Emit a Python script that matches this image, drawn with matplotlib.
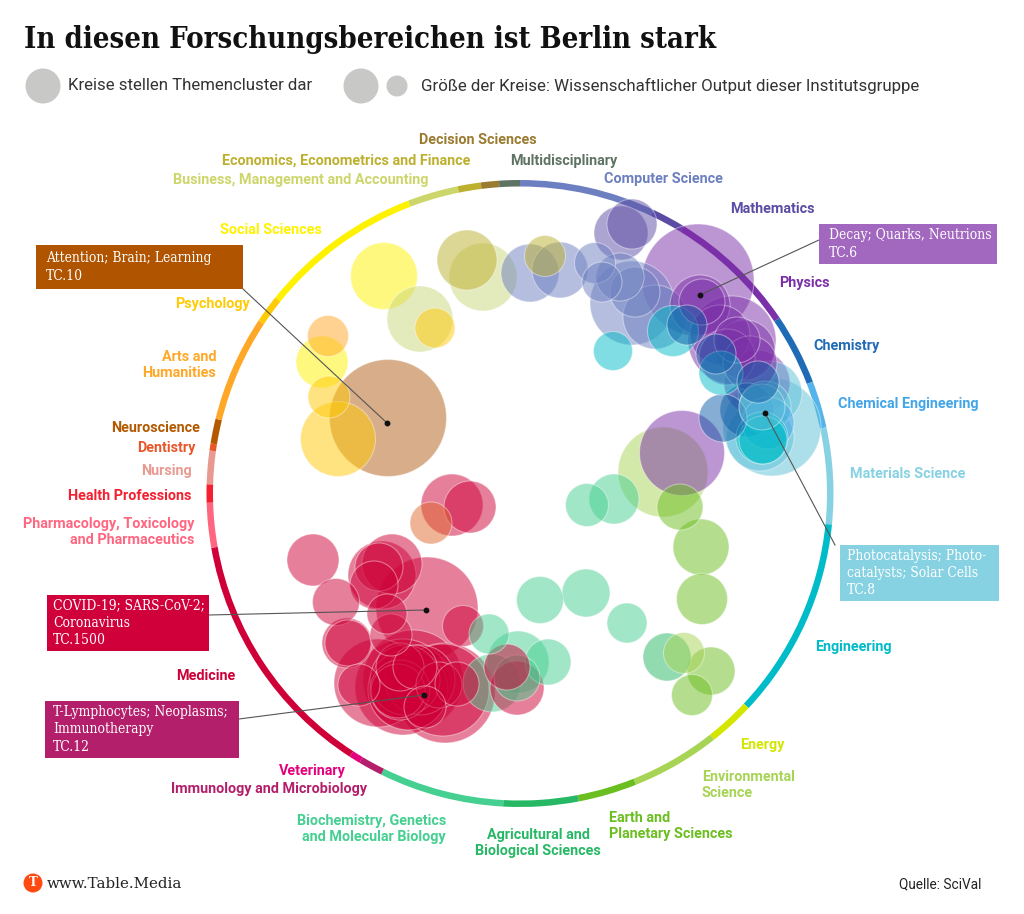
import matplotlib
matplotlib.use("Agg")
import matplotlib.pyplot as plt
from matplotlib.patches import Circle, Rectangle

# ---- Ring: research areas clockwise from 12 o'clock, share in degrees
areas = ["Computer Science", "Mathematics", "Physics", "Chemistry", "Chemical Engineering",
         "Materials Science", "Engineering", "Energy", "Environmental Science", "Earth",
         "Agricultural", "Biochemistry", "Immunology", "Veterinary", "Medicine", "Pharmacology",
         "Health Professions", "Nursing", "Dentistry", "Neuroscience", "Arts", "Psychology",
         "Social Sciences", "Business", "Economics", "Decision Sciences", "Multidisciplinary"]
ring_degrees = [25.25, 6.25, 24.4, 13.2, 8.7, 17.9, 37.5, 8.6, 16.5, 10.9, 13.9, 23.2, 4.5, 2.1,
                47.1, 8.3, 3.4, 6.2, 1.3, 4.6, 19.7, 5.2, 30.4, 9.4, 4.3, 3.35, 3.85]
ring_colors = ["#6C7FC0", "#5B4BA5", "#7B2FA8", "#1F6BB5", "#55B4EC", "#87D2E2", "#00BCC8",
               "#D4E600", "#A8D455", "#6BBE1F", "#27B865", "#45CF90", "#B41F6B", "#E5007D",
               "#CE0037", "#FF6680", "#F5202F", "#E89A90", "#E8562A", "#B35900", "#FFA726",
               "#FFCB05", "#FFF200", "#CDD66A", "#BDB02F", "#9A7B2F", "#5E7363"]

# ---- Topic clusters (x, y, radius), by area
social = [(384, 276, 33.5), (322, 362, 26)]
business = [(420, 319, 33), (483, 277, 34)]
economics = [(467, 260, 30), (545, 256, 20.5)]
psychology = [(435, 328, 20), (329, 397, 21), (338, 439, 37.5)]
arts = [(328, 336, 20.5)]
neuroscience = [(388, 418, 58.5)]
dentistry = [(431, 523, 21)]
computer = [(530, 273, 29), (560, 270, 28), (632, 303, 42), (655, 317, 32), (595, 263, 20.5),
            (602, 282, 20), (620, 277, 24), (635, 292, 25)]
mathematics = [(621, 233, 27), (632, 224, 25)]
physics = [(698, 280, 56), (682, 453, 42.5), (700, 305, 30), (702, 302, 23), (732, 340, 44),
           (737, 340, 23), (727, 357, 28), (750, 363, 27), (757, 383, 33), (745, 350, 30),
           (720, 335, 30)]
materials = [(772, 427, 49), (770, 393, 32), (760, 437, 34), (765, 407, 26), (762, 407, 23)]
chem_eng = [(768, 423, 26)]
chemistry = [(687, 325, 20), (716, 354, 20), (747, 410, 27), (758, 382, 21), (723, 418, 24)]
engineering = [(613, 351, 19.5), (673, 331, 25.5), (721, 373, 22), (762, 438, 26), (763, 440, 24)]
environment = [(663, 472, 45), (684, 653, 20.5)]
earth = [(701, 547, 28), (702, 599, 25.5), (680, 507, 23), (711, 671, 24), (692, 695, 20.5)]
agriculture = [(667, 657, 24)]
biochem = [(587, 505, 21.5), (614, 499, 25), (540, 600, 23.5), (586, 593, 24), (627, 623, 20),
           (548, 662, 23), (518, 662, 31), (489, 634, 20), (492, 683, 29), (517, 678, 23)]
medicine = [(452, 505, 31), (470, 507, 26), (313, 560, 26), (336, 602, 23.5), (392, 564, 30),
            (382, 575, 34), (379, 567, 24), (374, 585, 24), (427, 608, 51), (387, 614, 20),
            (391, 635, 21), (347, 643, 25), (348, 643, 23), (463, 626, 20.5), (378, 683, 44),
            (359, 685, 21), (403, 687, 48), (413, 680, 50), (408, 690, 40), (420, 680, 35),
            (405, 680, 35), (400, 690, 30), (398, 691, 27), (415, 667, 22), (400, 667, 24),
            (439, 685, 23), (457, 684, 22), (445, 693, 50), (443, 690, 46), (425, 707, 21),
            (507, 667, 23), (517, 688, 27)]

cluster_groups = [(social, "#FFF200"), (business, "#C9D678"), (economics, "#BDB02F"),
                  (psychology, "#FFC905"), (arts, "#FFA726"), (neuroscience, "#B05F14"),
                  (dentistry, "#E0682E"), (computer, "#6C7FC0"), (mathematics, "#5B4BA5"),
                  (environment, "#A8D455"), (earth, "#6BBE1F"), (agriculture, "#27B865"),
                  (biochem, "#45CF90"), (physics, "#7B2FA8"), (materials, "#5CC0D8"),
                  (chem_eng, "#42A5E8"), (engineering, "#00BCC8"), (chemistry, "#0F5CA8"),
                  (medicine, "#CE0037")]

# ---- Area labels
labels = [
    ("Decision Sciences", 478, 140, "center", "#9A7B2F"),
    ("Economics, Econometrics and Finance", 470, 161, "right", "#BDB02F"),
    ("Business, Management and Accounting", 428, 180, "right", "#CDD66A"),
    ("Multidisciplinary", 564, 161, "center", "#5E7363"),
    ("Computer Science", 663, 179, "center", "#6C7FC0"),
    ("Mathematics", 772, 209, "center", "#5B4BA5"),
    ("Physics", 804, 283, "center", "#7B2FA8"),
    ("Chemistry", 847, 346, "center", "#1F6BB5"),
    ("Chemical Engineering", 908, 404, "center", "#42A5E8"),
    ("Materials Science", 908, 474, "center", "#87D2E2"),
    ("Engineering", 853, 647, "center", "#00BCC8"),
    ("Energy", 762, 745, "center", "#D4E600"),
    ("Environmental\nScience", 702, 785, "left", "#A8D455"),
    ("Earth and\nPlanetary Sciences", 609, 826, "left", "#6BBE1F"),
    ("Agricultural and\nBiological Sciences", 538, 843, "center", "#27B865"),
    ("Biochemistry, Genetics\nand Molecular Biology", 446, 829, "right", "#45CF90"),
    ("Veterinary", 312, 771, "center", "#E5007D"),
    ("Immunology and Microbiology", 269, 789, "center", "#B41F6B"),
    ("Medicine", 206, 676, "center", "#CE0037"),
    ("Pharmacology, Toxicology\nand Pharmaceutics", 194, 532, "right", "#FF6680"),
    ("Health Professions", 191, 496, "right", "#F5202F"),
    ("Nursing", 192, 471, "right", "#E89A90"),
    ("Dentistry", 196, 448, "right", "#E8562A"),
    ("Neuroscience", 200, 428, "right", "#B35900"),
    ("Arts and\nHumanities", 216, 365, "right", "#FFA726"),
    ("Psychology", 250, 304, "right", "#FFCB05"),
    ("Social Sciences", 322, 230, "right", "#FFF200"),
]

# ---- Callouts: text, text x, box (x0, y0, x1, y1), colour, leader start, dot
callouts = [
    ("Attention; Brain; Learning\nTC.10", 46, (36, 245, 243, 289), "#B05400", (243, 289), (387, 423)),
    ("Decay; Quarks, Neutrions\nTC.6", 829, (819, 224, 997, 264), "#A268C0", (819, 240), (700, 295)),
    ("Photocatalysis; Photo-\ncatalysts; Solar Cells\nTC.8", 847, (840, 545, 999, 601), "#87D2E2", (835, 545), (765, 413)),
    ("COVID-19; SARS-CoV-2;\nCoronavirus\nTC.1500", 53, (47, 595, 209, 651), "#D0003A", (209, 615), (426, 610)),
    ("T-Lymphocytes; Neoplasms;\nImmunotherapy\nTC.12", 53, (45, 701, 239, 758), "#B41F6B", (239, 719), (424, 695)),
]

legend_big = [(43, 86, 17.5), (361, 86, 17.5)]
legend_small = [(397, 86, 10.5)]

fig = plt.figure(figsize=(10.24, 9.14), dpi=100)
ax = fig.add_axes([0, 0, 1, 1])

# ring
ax.pie(ring_degrees, colors=ring_colors, center=(520, 493.5), radius=313.5, startangle=-90,
       counterclock=True, wedgeprops=dict(width=6.5, linewidth=0))
ax.set_aspect("equal")
ax.set_xlim(0, 1024)
ax.set_ylim(914, 0)
ax.axis("off")

# clusters, largest at the back
bubbles = [(x, y, r, colour) for group, colour in cluster_groups for x, y, r in group]
for x, y, r, colour in sorted(bubbles, key=lambda b: -b[2]):
    ax.add_patch(Circle((x, y), r, facecolor=matplotlib.colors.to_rgba(colour, 0.5),
                        edgecolor=(1, 1, 1, 0.4), linewidth=0.8, zorder=3))

SANS = "Roboto"
SERIF = "DejaVu Serif"

# area labels
for text, x, y, ha, colour in labels:
    ax.text(x, y, text, ha=ha, va="center", color=colour, fontsize=10.35, family=SANS,
            fontweight="bold", linespacing=1.2, zorder=6, multialignment=ha)

# callouts
for text, tx, (x0, y0, x1, y1), colour, start, dot in callouts:
    ax.plot([start[0], dot[0]], [start[1], dot[1]], color="#555555", lw=0.8, zorder=5)
    ax.plot([dot[0]], [dot[1]], "o", color="#111111", ms=3.2, zorder=5)
    ax.add_patch(Rectangle((x0, y0), x1 - x0, y1 - y0, facecolor=colour, edgecolor="none", zorder=6))
    ax.text(tx, (y0 + y1) / 2, text, ha="left", va="center", color="white", fontsize=9.9,
            family=SERIF, stretch="condensed", linespacing=1.3, zorder=7)

# title and legend
ax.text(24, 39, "In diesen Forschungsbereichen ist Berlin stark", ha="left", va="center",
        fontsize=21, family=SERIF, stretch="condensed", fontweight="bold", color="#111111")
for x, y, r in legend_big + legend_small:
    ax.add_patch(Circle((x, y), r, facecolor="#C8C8C6", edgecolor="none"))
ax.text(68, 86, "Kreise stellen Themencluster dar", ha="left", va="center", fontsize=12.1,
        family=SANS, color="#333333")
ax.text(421, 86, "Größe der Kreise: Wissenschaftlicher Output dieser Institutsgruppe", ha="left",
        va="center", fontsize=12.15, family=SANS, color="#333333")

# footer
ax.add_patch(Circle((33, 883), 9.5, facecolor="#FF4A12", edgecolor="none"))
ax.text(33, 883, "T", ha="center", va="center", color="white", fontsize=8.5, family=SERIF,
        fontweight="bold")
ax.text(47, 884, "www.Table.Media", ha="left", va="center", fontsize=10.8, family=SERIF, color="#222222")
ax.text(981, 884, "Quelle: SciVal", ha="right", va="center", fontsize=9.8, family=SANS, color="#222222")

fig.savefig("out.png", dpi=100)
